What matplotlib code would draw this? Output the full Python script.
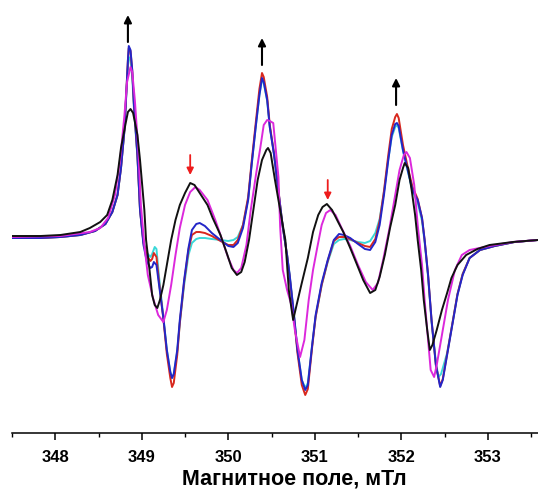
import matplotlib

matplotlib.use("Agg")
import matplotlib.pyplot as plt
from matplotlib.ticker import FixedLocator, MultipleLocator

# field, mT; intensity, a.u.
BLACK_FIELD = [347.50, 347.83, 348.06, 348.29, 348.40, 348.52, 348.60, 348.66, 348.72, 348.76,
               348.81, 348.84, 348.87, 348.90, 348.95, 348.98, 349.00, 349.03, 349.05, 349.09,
               349.12, 349.15, 349.18, 349.21, 349.25, 349.29, 349.34, 349.39, 349.44, 349.50,
               349.56, 349.61, 349.67, 349.76, 349.82, 349.91, 349.99, 350.04, 350.10, 350.15,
               350.19, 350.24, 350.29, 350.34, 350.39, 350.44, 350.46, 350.49, 350.54, 350.60,
               350.66, 350.70, 350.75, 350.79, 350.85, 350.92, 350.98, 351.04, 351.09, 351.14,
               351.20, 351.27, 351.33, 351.41, 351.49, 351.56, 351.64, 351.70, 351.75, 351.81,
               351.87, 351.93, 351.98, 352.02, 352.04, 352.08, 352.12, 352.16, 352.19, 352.23,
               352.26, 352.30, 352.33, 352.36, 352.41, 352.47, 352.53, 352.58, 352.65, 352.75,
               352.88, 353.02, 353.29, 353.58]
BLACK_SIGNAL = [1, 1, 2, 5, 9, 15, 22, 37, 62, 89,
                112, 125, 128, 124, 102, 77, 57, 27, -3, -33,
                -58, -68, -71, -63, -48, -28, -3, 17, 32, 44,
                54, 52, 44, 32, 19, 2, -18, -31, -38, -35,
                -25, -3, 27, 57, 77, 87, 89, 84, 57, 27,
                -3, -53, -83, -68, -46, -21, 5, 22, 30, 33,
                27, 15, 5, -11, -28, -43, -56, -53, -40, -18,
                9, 32, 57, 69, 74, 69, 47, 22, -3, -33,
                -63, -93, -113, -108, -93, -73, -56, -41, -28, -18,
                -12, -8, -5, -3]

BLUE_FIELD = [347.50, 347.83, 348.06, 348.29, 348.46, 348.58, 348.66, 348.72, 348.76, 348.80,
              348.82, 348.84, 348.85, 348.87, 348.89, 348.91, 348.95, 348.98, 349.02, 349.06,
              349.10, 349.12, 349.14, 349.17, 349.20, 349.25, 349.29, 349.33, 349.35, 349.37,
              349.41, 349.44, 349.49, 349.54, 349.58, 349.63, 349.67, 349.73, 349.81, 349.91,
              350.00, 350.06, 350.11, 350.17, 350.23, 350.27, 350.32, 350.36, 350.39, 350.41,
              350.45, 350.48, 350.53, 350.56, 350.63, 350.68, 350.71, 350.76, 350.80, 350.85,
              350.89, 350.92, 350.97, 351.01, 351.08, 351.15, 351.22, 351.28, 351.34, 351.41,
              351.50, 351.58, 351.64, 351.70, 351.75, 351.80, 351.85, 351.89, 351.93, 351.95,
              351.97, 352.02, 352.08, 352.13, 352.19, 352.24, 352.27, 352.31, 352.35, 352.40,
              352.45, 352.48, 352.53, 352.60, 352.65, 352.71, 352.79, 352.91, 353.08, 353.31,
              353.58]
BLUE_SIGNAL = [-1, -1, 0, 2, 6, 13, 25, 42, 69, 107,
               142, 177, 191, 187, 167, 132, 82, 27, -8, -25,
               -31, -30, -25, -28, -48, -81, -113, -135, -141, -137,
               -113, -83, -43, -11, 7, 13, 14, 11, 4, -3,
               -9, -10, -6, 9, 37, 72, 112, 142, 159, 155,
               137, 110, 82, 60, 10, -18, -38, -78, -113, -143,
               -153, -148, -108, -78, -46, -23, -3, 3, 2, -1,
               -7, -12, -13, -5, 12, 42, 77, 102, 113, 114,
               111, 87, 65, 47, 37, 19, -3, -38, -83, -128,
               -150, -143, -118, -83, -58, -38, -21, -13, -9, -5,
               -3]

RED_FIELD = [347.50, 347.83, 348.06, 348.29, 348.46, 348.58, 348.66, 348.72, 348.76, 348.80,
             348.82, 348.84, 348.85, 348.87, 348.89, 348.91, 348.95, 348.98, 349.02, 349.06,
             349.10, 349.12, 349.14, 349.17, 349.20, 349.25, 349.29, 349.33, 349.35, 349.37,
             349.41, 349.44, 349.49, 349.54, 349.58, 349.63, 349.67, 349.73, 349.81, 349.91,
             350.00, 350.06, 350.11, 350.17, 350.23, 350.27, 350.32, 350.36, 350.39, 350.41,
             350.45, 350.48, 350.53, 350.56, 350.63, 350.68, 350.71, 350.76, 350.80, 350.85,
             350.89, 350.92, 350.97, 351.01, 351.08, 351.15, 351.22, 351.28, 351.34, 351.41,
             351.50, 351.58, 351.64, 351.70, 351.75, 351.80, 351.85, 351.89, 351.93, 351.95,
             351.97, 352.02, 352.08, 352.13, 352.19, 352.24, 352.27, 352.31, 352.35, 352.40,
             352.45, 352.48, 352.53, 352.60, 352.65, 352.71, 352.79, 352.91, 353.08, 353.31,
             353.58]
RED_SIGNAL = [-1, -1, 0, 2, 6, 13, 25, 42, 69, 107,
              142, 177, 189, 186, 166, 131, 81, 27, -6, -19,
              -24, -22, -16, -20, -45, -82, -117, -141, -150, -146,
              -118, -86, -45, -13, 2, 5, 5, 4, 1, -4,
              -8, -8, -3, 12, 40, 75, 116, 148, 164, 160,
              140, 112, 83, 61, 10, -18, -40, -80, -116, -148,
              -158, -152, -110, -80, -48, -24, -4, 0, 0, -2,
              -6, -9, -10, -2, 16, 46, 82, 108, 120, 123,
              119, 92, 68, 50, 38, 19, -3, -38, -83, -128,
              -149, -142, -117, -82, -57, -37, -21, -13, -9, -5,
              -3]

CYAN_FIELD = [347.50, 347.83, 348.06, 348.29, 348.46, 348.58, 348.66, 348.72, 348.76, 348.80,
              348.82, 348.84, 348.85, 348.87, 348.89, 348.91, 348.95, 348.98, 349.02, 349.06,
              349.10, 349.12, 349.15, 349.17, 349.20, 349.25, 349.29, 349.33, 349.35, 349.37,
              349.41, 349.44, 349.49, 349.54, 349.58, 349.63, 349.67, 349.73, 349.81, 349.91,
              350.00, 350.06, 350.11, 350.17, 350.23, 350.27, 350.32, 350.36, 350.39, 350.41,
              350.45, 350.48, 350.53, 350.56, 350.63, 350.68, 350.71, 350.76, 350.80, 350.85,
              350.89, 350.92, 350.97, 351.01, 351.08, 351.15, 351.22, 351.28, 351.34, 351.41,
              351.50, 351.58, 351.64, 351.70, 351.75, 351.80, 351.85, 351.89, 351.93, 351.95,
              351.97, 352.02, 352.08, 352.13, 352.19, 352.24, 352.27, 352.31, 352.35, 352.40,
              352.43, 352.46, 352.53, 352.60, 352.65, 352.71, 352.79, 352.91, 353.08, 353.31,
              353.58]
CYAN_SIGNAL = [-1, -1, 0, 2, 6, 13, 25, 42, 69, 107,
               140, 170, 180, 177, 160, 128, 80, 27, -5, -16,
               -20, -17, -10, -12, -40, -80, -113, -135, -141, -137,
               -115, -86, -48, -18, -6, -2, -1, -1, -2, -3,
               -4, -3, 0, 12, 38, 72, 112, 142, 157, 154,
               136, 110, 82, 60, 10, -18, -38, -78, -113, -143,
               -151, -146, -108, -80, -48, -25, -7, -3, -2, -3,
               -5, -6, -4, 4, 18, 45, 78, 100, 110, 112,
               109, 86, 64, 46, 34, 16, -5, -40, -85, -125,
               -140, -137, -116, -82, -57, -37, -21, -13, -9, -5,
               -3]

MAGENTA_FIELD = [347.50, 348.06, 348.40, 348.52, 348.61, 348.69, 348.75, 348.80, 348.83, 348.87,
                 348.89, 348.92, 348.96, 348.99, 349.03, 349.07, 349.13, 349.19, 349.25, 349.29,
                 349.34, 349.39, 349.44, 349.50, 349.56, 349.62, 349.67, 349.76, 349.85, 349.93,
                 350.00, 350.06, 350.10, 350.15, 350.21, 350.26, 350.32, 350.37, 350.41, 350.45,
                 350.48, 350.52, 350.55, 350.58, 350.60, 350.63, 350.68, 350.73, 350.77, 350.83,
                 350.88, 350.93, 350.98, 351.03, 351.08, 351.13, 351.18, 351.24, 351.31, 351.41,
                 351.50, 351.59, 351.67, 351.73, 351.79, 351.86, 351.93, 351.98, 352.03, 352.06,
                 352.10, 352.15, 352.19, 352.24, 352.27, 352.31, 352.34, 352.38, 352.41, 352.47,
                 352.54, 352.62, 352.70, 352.79, 353.02, 353.29, 353.58]
MAGENTA_SIGNAL = [0, 1, 5, 9, 19, 42, 77, 122, 155, 170,
                  165, 137, 87, 32, -8, -38, -61, -78, -85, -73,
                  -48, -18, 9, 32, 45, 50, 47, 37, 17, -3,
                  -21, -33, -36, -31, -8, 27, 62, 89, 112, 117,
                  116, 114, 87, 60, 10, -33, -53, -68, -93, -120,
                  -103, -63, -33, -10, 12, 24, 27, 22, 9, -9,
                  -28, -45, -53, -46, -23, 7, 42, 67, 82, 85,
                  79, 52, 12, -28, -63, -103, -133, -140, -128, -98,
                  -63, -33, -18, -13, -9, -5, -3]

FIELD_TICKS = [348, 349, 350, 351, 352, 353]

# arrow (field, tail, head) marking growing and vanishing lines
UP_ARROWS = [(348.84, 195, 222), (350.39, 172, 199), (351.94, 132, 159)]
DOWN_ARROWS = [(349.56, 82, 62), (351.15, 57, 37)]

SERIES = [
    (CYAN_FIELD, CYAN_SIGNAL, "#3ad8d8"),
    (RED_FIELD, RED_SIGNAL, "#d8281e"),
    (BLUE_FIELD, BLUE_SIGNAL, "#2326c8"),
    (MAGENTA_FIELD, MAGENTA_SIGNAL, "#dc28dc"),
    (BLACK_FIELD, BLACK_SIGNAL, "#111111"),
]

plt.rcParams["font.family"] = ["Liberation Sans", "DejaVu Sans"]

fig = plt.figure(figsize=(5.38, 4.93), dpi=100, facecolor="white")
ax = fig.add_axes([12 / 538, 60 / 493, 564 / 538, 433 / 493])

for field, signal, color in SERIES:
    ax.plot(field, signal, color=color, lw=1.4)

for x, tail, head in UP_ARROWS:
    ax.annotate("", xy=(x, head), xytext=(x, tail),
                arrowprops=dict(arrowstyle="-|>", color="black", lw=1.5,
                                mutation_scale=11, shrinkA=0, shrinkB=0))
for x, tail, head in DOWN_ARROWS:
    ax.annotate("", xy=(x, head), xytext=(x, tail),
                arrowprops=dict(arrowstyle="-|>", color="#ee1c1c", lw=1.3,
                                mutation_scale=10, shrinkA=0, shrinkB=0))

ax.set_xlim(347.5, 354.02)
ax.set_ylim(-196, 237)
for side in ("left", "right", "top"):
    ax.spines[side].set_visible(False)
ax.spines["bottom"].set_linewidth(1.1)
ax.set_yticks([])
ax.xaxis.set_major_locator(FixedLocator(FIELD_TICKS))
ax.xaxis.set_minor_locator(MultipleLocator(0.5))
ax.tick_params(axis="x", which="major", direction="out", length=5, width=1.1, pad=7,
               labelsize=12)
ax.tick_params(axis="x", which="minor", direction="out", length=3, width=1.0)
for label in ax.get_xticklabels():
    label.set_fontweight("bold")
ax.set_xlabel("Магнитное поле, мТл", fontsize=15.5, fontweight="bold", labelpad=3)

fig.savefig("out.png", dpi=100, facecolor="white")
